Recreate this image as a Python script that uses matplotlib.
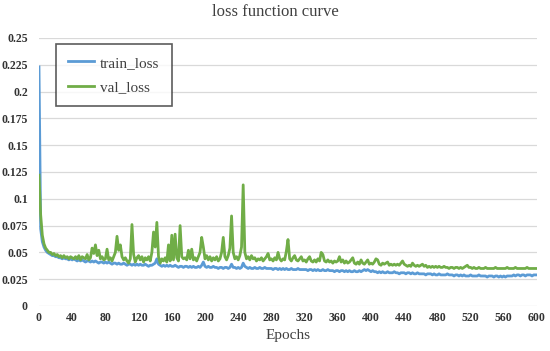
import matplotlib
matplotlib.use("Agg")
import matplotlib.pyplot as plt

# ── Data (one value every 2 epochs) ──────────────────────────────────────────
epochs = list(range(0, 601, 2))

train_loss = [
    0.223, 0.072, 0.060, 0.055, 0.052, 0.050, 0.049, 0.048, 0.047, 0.047, 0.046, 0.046, 0.045, 0.045, 0.044, 0.045, 0.044, 0.044, 0.043, 0.044,
    0.043, 0.044, 0.043, 0.042, 0.043, 0.042, 0.043, 0.042, 0.041, 0.042, 0.042, 0.041, 0.042, 0.041, 0.042, 0.041, 0.040, 0.041, 0.041, 0.040,
    0.041, 0.040, 0.041, 0.040, 0.039, 0.040, 0.040, 0.039, 0.040, 0.039, 0.039, 0.040, 0.039, 0.038, 0.039, 0.039, 0.038, 0.039, 0.038, 0.039,
    0.038, 0.039, 0.038, 0.038, 0.039, 0.038, 0.037, 0.038, 0.038, 0.039, 0.040, 0.044, 0.039, 0.038, 0.037, 0.038, 0.037, 0.038, 0.037, 0.038,
    0.037, 0.037, 0.038, 0.037, 0.036, 0.037, 0.037, 0.036, 0.037, 0.037, 0.036, 0.037, 0.036, 0.037, 0.036, 0.036, 0.037, 0.036, 0.038, 0.041,
    0.037, 0.036, 0.037, 0.036, 0.036, 0.037, 0.036, 0.036, 0.035, 0.036, 0.036, 0.035, 0.036, 0.036, 0.035, 0.036, 0.039, 0.036, 0.036, 0.035,
    0.036, 0.035, 0.036, 0.040, 0.037, 0.036, 0.035, 0.036, 0.035, 0.035, 0.036, 0.035, 0.035, 0.036, 0.035, 0.035, 0.036, 0.035, 0.035, 0.035,
    0.035, 0.034, 0.035, 0.035, 0.034, 0.035, 0.034, 0.035, 0.034, 0.035, 0.034, 0.034, 0.035, 0.034, 0.034, 0.034, 0.035, 0.034, 0.034, 0.034,
    0.034, 0.034, 0.033, 0.034, 0.034, 0.033, 0.034, 0.033, 0.034, 0.033, 0.033, 0.034, 0.033, 0.033, 0.034, 0.033, 0.033, 0.033, 0.032, 0.033,
    0.033, 0.032, 0.033, 0.033, 0.032, 0.033, 0.032, 0.033, 0.032, 0.032, 0.033, 0.032, 0.032, 0.033, 0.032, 0.033, 0.034, 0.033, 0.034, 0.033,
    0.032, 0.033, 0.032, 0.032, 0.031, 0.032, 0.031, 0.032, 0.031, 0.031, 0.032, 0.031, 0.031, 0.031, 0.032, 0.031, 0.031, 0.030, 0.031, 0.031,
    0.031, 0.030, 0.031, 0.031, 0.030, 0.031, 0.030, 0.030, 0.031, 0.030, 0.030, 0.030, 0.030, 0.029, 0.030, 0.030, 0.030, 0.029, 0.030, 0.029,
    0.029, 0.030, 0.029, 0.029, 0.029, 0.029, 0.030, 0.029, 0.029, 0.029, 0.028, 0.029, 0.029, 0.028, 0.029, 0.028, 0.029, 0.028, 0.028, 0.028,
    0.029, 0.028, 0.028, 0.028, 0.028, 0.029, 0.028, 0.028, 0.028, 0.028, 0.027, 0.028, 0.028, 0.028, 0.027, 0.028, 0.028, 0.027, 0.028, 0.027,
    0.028, 0.027, 0.028, 0.028, 0.028, 0.028, 0.029, 0.028, 0.029, 0.029, 0.028, 0.029, 0.029, 0.028, 0.029, 0.029, 0.029, 0.028, 0.029, 0.029,
    0.029,
]

val_loss = [
    0.122, 0.085, 0.066, 0.058, 0.054, 0.052, 0.050, 0.050, 0.048, 0.049, 0.047, 0.048, 0.046, 0.047, 0.045, 0.047, 0.045, 0.046, 0.044, 0.046,
    0.045, 0.044, 0.046, 0.044, 0.047, 0.043, 0.046, 0.045, 0.044, 0.048, 0.043, 0.045, 0.054, 0.049, 0.057, 0.047, 0.052, 0.044, 0.046, 0.043,
    0.044, 0.053, 0.043, 0.045, 0.042, 0.046, 0.050, 0.065, 0.052, 0.057, 0.046, 0.043, 0.045, 0.042, 0.040, 0.044, 0.076, 0.048, 0.041, 0.045,
    0.047, 0.043, 0.046, 0.041, 0.045, 0.043, 0.046, 0.042, 0.050, 0.069, 0.055, 0.078, 0.046, 0.040, 0.044, 0.042, 0.045, 0.041, 0.057, 0.042,
    0.066, 0.043, 0.067, 0.045, 0.042, 0.075, 0.046, 0.044, 0.045, 0.043, 0.052, 0.044, 0.053, 0.043, 0.045, 0.042, 0.046, 0.050, 0.064, 0.055,
    0.044, 0.047, 0.043, 0.046, 0.042, 0.045, 0.043, 0.046, 0.042, 0.044, 0.050, 0.064, 0.046, 0.043, 0.047, 0.054, 0.084, 0.050, 0.044, 0.046,
    0.043, 0.047, 0.055, 0.113, 0.050, 0.044, 0.046, 0.043, 0.047, 0.044, 0.045, 0.042, 0.044, 0.043, 0.045, 0.042, 0.044, 0.046, 0.049, 0.043,
    0.044, 0.042, 0.045, 0.043, 0.050, 0.044, 0.042, 0.044, 0.043, 0.051, 0.062, 0.044, 0.042, 0.045, 0.047, 0.043, 0.042, 0.044, 0.046, 0.042,
    0.043, 0.041, 0.044, 0.046, 0.042, 0.041, 0.043, 0.041, 0.044, 0.042, 0.050, 0.048, 0.042, 0.041, 0.043, 0.041, 0.042, 0.040, 0.042, 0.041,
    0.042, 0.046, 0.041, 0.043, 0.040, 0.042, 0.040, 0.041, 0.043, 0.045, 0.040, 0.039, 0.041, 0.039, 0.043, 0.040, 0.039, 0.041, 0.043, 0.039,
    0.040, 0.039, 0.041, 0.044, 0.043, 0.039, 0.038, 0.040, 0.039, 0.040, 0.041, 0.038, 0.039, 0.038, 0.039, 0.038, 0.039, 0.038, 0.040, 0.042,
    0.039, 0.038, 0.037, 0.038, 0.037, 0.040, 0.038, 0.037, 0.038, 0.037, 0.038, 0.039, 0.037, 0.038, 0.036, 0.037, 0.036, 0.037, 0.036, 0.037,
    0.036, 0.037, 0.036, 0.036, 0.037, 0.036, 0.036, 0.035, 0.036, 0.036, 0.035, 0.036, 0.036, 0.035, 0.036, 0.035, 0.036, 0.037, 0.038, 0.036,
    0.036, 0.035, 0.036, 0.035, 0.035, 0.036, 0.035, 0.035, 0.035, 0.036, 0.035, 0.035, 0.035, 0.035, 0.035, 0.036, 0.035, 0.035, 0.035, 0.035,
    0.035, 0.035, 0.036, 0.035, 0.035, 0.035, 0.035, 0.036, 0.035, 0.035, 0.035, 0.035, 0.035, 0.035, 0.036, 0.035, 0.035, 0.035, 0.035, 0.035,
    0.035,
]

x_ticks = list(range(0, 601, 40))
y_ticks = [0, 0.025, 0.05, 0.075, 0.1, 0.125, 0.15, 0.175, 0.2, 0.225, 0.25]
y_tick_labels = ["0", "0.025", "0.05", "0.075", "0.1", "0.125", "0.15", "0.175", "0.2", "0.225", "0.25"]

# ── Style ────────────────────────────────────────────────────────────────────
BLUE  = "#5B9BD5"
GREEN = "#70AD47"
plt.rcParams["font.family"] = ["Liberation Serif", "DejaVu Serif"]

fig = plt.figure(figsize=(5.5, 3.51), dpi=100)
ax = fig.add_axes([39 / 550, 45 / 351, 498 / 550, 268 / 351])

ax.plot(epochs, train_loss, color=BLUE, lw=2.0, label="train_loss")
ax.plot(epochs, val_loss, color=GREEN, lw=2.0, label="val_loss")

ax.set_xlim(0, 600)
ax.set_ylim(0, 0.25)
ax.set_xticks(x_ticks)
ax.set_yticks(y_ticks)
ax.set_yticklabels(y_tick_labels)
for lab in ax.get_xticklabels() + ax.get_yticklabels():
    lab.set_fontweight("bold")
    lab.set_fontsize(8.5)
    lab.set_color("#333333")
ax.tick_params(axis="both", length=0)
ax.tick_params(axis="y", pad=8)
ax.tick_params(axis="x", pad=4)

ax.grid(axis="y", color="#d9d9d9", lw=0.9)
ax.set_axisbelow(True)
for s in ax.spines.values():
    s.set_visible(False)

ax.set_xlabel("Epochs", fontsize=11, color="#404040", labelpad=4)
fig.text(0.5, 1 - 12 / 351, "loss function curve", ha="center", va="center",
         fontsize=12, color="#404040")

leg = ax.legend(loc="upper left", bbox_to_anchor=(0.034, 0.978),
                fontsize=11, frameon=True, fancybox=False, borderpad=0.8,
                labelspacing=0.7, handlelength=1.7, handletextpad=0.4,
                borderaxespad=0)
leg.get_frame().set_edgecolor("#333333")
leg.get_frame().set_linewidth(1.2)
for t in leg.get_texts():
    t.set_color("#404040")

fig.savefig("out.png", dpi=100)
